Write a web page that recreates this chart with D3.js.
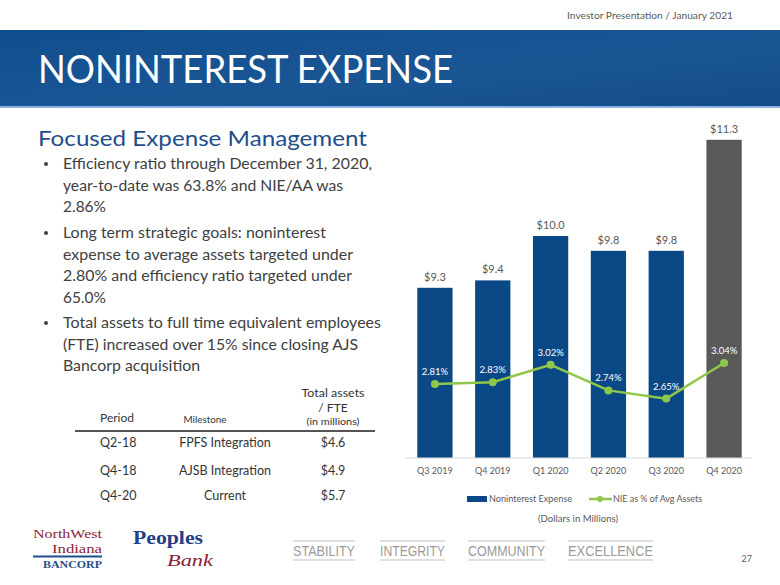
<!DOCTYPE html>
<html><head><meta charset="utf-8">
<script src="https://cdn.jsdelivr.net/npm/d3@7"></script>
<style>html,body{margin:0;padding:0;background:#fff;}svg{display:block;}</style>
</head><body>
<svg id="c" width="780" height="585"></svg>
<script>
const categories = ["Q3 2019","Q4 2019","Q1 2020","Q2 2020","Q3 2020","Q4 2020"];
const expense = [9.3, 9.4, 10.0, 9.8, 9.8, 11.3];
const expenseLabels = ["$9.3","$9.4","$10.0","$9.8","$9.8","$11.3"];
const niePct = [2.81, 2.83, 3.02, 2.74, 2.65, 3.04];
const nieLabels = ["2.81%","2.83%","3.02%","2.74%","2.65%","3.04%"];
const legendNames = ["Noninterest Expense","NIE as % of Avg Assets"];
const tablePeriods = ["Q2-18","Q4-18","Q4-20"];
const tableMilestones = ["FPFS Integration","AJSB Integration","Current"];
const tableValues = ["$4.6","$4.9","$5.7"];
const bullets = [
  ["Efficiency ratio through December 31, 2020,","year-to-date  was 63.8% and NIE/AA was","2.86%"],
  ["Long term strategic goals: noninterest","expense to average assets targeted under","2.80% and efficiency ratio targeted under","65.0%"],
  ["Total assets to full time equivalent employees","(FTE) increased over 15% since closing AJS","Bancorp acquisition"]
];
const bulletWidths = [[309,280,43],[263,290,289,43],[318,295,137]];
const values = ["STABILITY","INTEGRITY","COMMUNITY","EXCELLENCE"];

const svg = d3.select("#c");
const F = "Lato, 'Open Sans', sans-serif";

// header
svg.append("text").attr("x",733).attr("y",19).attr("text-anchor","end")
  .attr("font-family",F).attr("font-size",10).attr("fill","#595959")
  .attr("textLength",166).attr("lengthAdjust","spacingAndGlyphs")
  .text("Investor Presentation / January 2021");
const defs = svg.append("defs");
const g1 = defs.append("linearGradient").attr("id","band").attr("x1",0).attr("x2",1).attr("y1",0).attr("y2",1);
g1.append("stop").attr("offset","0").attr("stop-color","#114e8f");
g1.append("stop").attr("offset","0.6").attr("stop-color","#1a5694");
g1.append("stop").attr("offset","1").attr("stop-color","#124b88");
svg.append("rect").attr("x",0).attr("y",30).attr("width",780).attr("height",76).attr("fill","url(#band)");
svg.append("rect").attr("x",0).attr("y",106).attr("width",780).attr("height",2).attr("fill","#8db3e2");
svg.append("text").attr("x",38).attr("y",83).attr("font-family",F).attr("font-size",39)
  .attr("fill","#fff").attr("textLength",415).attr("lengthAdjust","spacingAndGlyphs")
  .text("NONINTEREST EXPENSE");

// left text
svg.append("text").attr("x",38).attr("y",146).attr("font-family",F).attr("font-size",22)
  .attr("fill","#1f4e8c").attr("textLength",329).attr("lengthAdjust","spacingAndGlyphs")
  .text("Focused Expense Management");
const lineStarts = [[169,191,212],[238,260,281,303],[328,350,371]];
bullets.forEach((b,i)=>{
  svg.append("circle").attr("cx",46).attr("cy",lineStarts[i][0]-5).attr("r",2).attr("fill","#404040");
  b.forEach((t,j)=>{
    svg.append("text").attr("x",63).attr("y",lineStarts[i][j]).attr("font-family",F)
      .attr("font-size",15.5).attr("fill","#404040")
      .attr("textLength",bulletWidths[i][j]).attr("lengthAdjust","spacingAndGlyphs").text(t);
  });
});

// table
const tf = (x,y,s,t,anchor,w)=>{const e=svg.append("text").attr("x",x).attr("y",y).attr("font-family",F)
  .attr("font-size",s).attr("fill","#333").attr("text-anchor",anchor||"start").text(t);
  if(w) e.attr("textLength",w).attr("lengthAdjust","spacingAndGlyphs"); return e;};
tf(333,397,12,"Total assets","middle",63);
tf(333,412,12,"/ FTE","middle");
tf(333,425,9,"(in millions)","middle",53);
tf(100,422,12,"Period","start",34);
tf(205,423,9,"Milestone","middle",43);
svg.append("line").attr("x1",75).attr("x2",375).attr("y1",431).attr("y2",431).attr("stroke","#555").attr("stroke-width",1.8);
const rowY = [447,475,500];
tablePeriods.forEach((p,i)=>{
  tf(100,rowY[i],12.5,p,"start");
  tf(225,rowY[i],12.5,tableMilestones[i],"middle");
  tf(333,rowY[i],12.5,tableValues[i],"middle");
});

// chart
const x = d3.scaleBand().domain(categories).range([406,753]).paddingInner(0.39).paddingOuter(0.195);
const y = d3.scaleLinear().domain([7,12]).range([458,88]);
const y2 = d3.scaleLinear().domain([2.0,6.05]).range([458,88]);
const blue = "#0b4886", gray = "#595959", green = "#8fc74a";

svg.append("g").selectAll("rect").data(expense).join("rect")
  .attr("x",(d,i)=>x(categories[i])).attr("width",x.bandwidth())
  .attr("y",d=>y(d)).attr("height",d=>y(7)-y(d))
  .attr("fill",(d,i)=>i===categories.length-1?gray:blue);
svg.append("g").selectAll("text").data(expense).join("text")
  .attr("x",(d,i)=>x(categories[i])+x.bandwidth()/2).attr("y",d=>y(d)-7)
  .attr("text-anchor","middle").attr("font-family",F).attr("font-size",11).attr("fill","#595959")
  .text((d,i)=>expenseLabels[i]);

const xAxis = svg.append("g").attr("transform","translate(0,458)")
  .call(d3.axisBottom(x).tickSize(0).tickPadding(10));
xAxis.select(".domain").attr("d","M405,0H752").attr("stroke","#d9d9d9");
xAxis.selectAll("text").attr("font-family",F).attr("font-size",9).attr("fill","#595959");

const line = d3.line().x((d,i)=>x(categories[i])+x.bandwidth()/2).y(d=>y2(d));
svg.append("path").datum(niePct).attr("d",line).attr("fill","none").attr("stroke",green).attr("stroke-width",2.5);
svg.append("g").selectAll("circle").data(niePct).join("circle")
  .attr("cx",(d,i)=>x(categories[i])+x.bandwidth()/2).attr("cy",d=>y2(d)).attr("r",4).attr("fill",green);
svg.append("g").selectAll("text").data(niePct).join("text")
  .attr("x",(d,i)=>x(categories[i])+x.bandwidth()/2).attr("y",d=>y2(d)-9)
  .attr("text-anchor","middle").attr("font-family",F).attr("font-size",9.5).attr("fill","#fff")
  .text((d,i)=>nieLabels[i]);

// legend
svg.append("rect").attr("x",467).attr("y",496).attr("width",20).attr("height",6).attr("fill",blue);
svg.append("text").attr("x",489).attr("y",502).attr("font-family",F).attr("font-size",8.5).attr("fill","#595959")
  .attr("textLength",83).attr("lengthAdjust","spacingAndGlyphs").text(legendNames[0]);
svg.append("line").attr("x1",589).attr("x2",612).attr("y1",499).attr("y2",499).attr("stroke",green).attr("stroke-width",2.5);
svg.append("circle").attr("cx",600).attr("cy",499).attr("r",3).attr("fill",green);
svg.append("text").attr("x",613).attr("y",502).attr("font-family",F).attr("font-size",8.5).attr("fill","#595959")
  .attr("textLength",89).attr("lengthAdjust","spacingAndGlyphs").text(legendNames[1]);
svg.append("text").attr("x",578).attr("y",522).attr("text-anchor","middle").attr("font-family",F).attr("font-size",8.5).attr("fill","#595959")
  .attr("textLength",80).attr("lengthAdjust","spacingAndGlyphs").text("(Dollars in Millions)");

// footer logos
const serif = "'Liberation Serif', 'DejaVu Serif', serif";
svg.append("text").attr("x",102).attr("y",538).attr("text-anchor","end").attr("font-family",serif).attr("font-size",12.5)
  .attr("fill","#8b2232").attr("textLength",69).attr("lengthAdjust","spacingAndGlyphs").text("NorthWest");
svg.append("text").attr("x",102).attr("y",552.5).attr("text-anchor","end").attr("font-family",serif).attr("font-size",12.5)
  .attr("fill","#8b2232").attr("textLength",50).attr("lengthAdjust","spacingAndGlyphs").text("Indiana");
svg.append("rect").attr("x",33).attr("y",555.5).attr("width",69).attr("height",2).attr("fill","#1f4e8c");
svg.append("text").attr("x",102).attr("y",568).attr("text-anchor","end").attr("font-family",serif).attr("font-size",11)
  .attr("font-weight","bold").attr("fill","#1f4e8c").attr("textLength",59).attr("lengthAdjust","spacingAndGlyphs").text("BANCORP");
svg.append("text").attr("x",133).attr("y",544).attr("font-family",serif).attr("font-size",19)
  .attr("font-weight","bold").attr("fill","#1f3f86").attr("textLength",70).attr("lengthAdjust","spacingAndGlyphs").text("Peoples");
svg.append("text").attr("x",167).attr("y",566).attr("font-family",serif).attr("font-size",17)
  .attr("font-style","italic").attr("fill","#8b2232").attr("textLength",46).attr("lengthAdjust","spacingAndGlyphs").text("Bank");

const vx = [[293,62],[380,65],[468,77],[568,85]];
values.forEach((v,i)=>{
  svg.append("line").attr("x1",vx[i][0]).attr("x2",vx[i][0]+vx[i][1]).attr("y1",541).attr("y2",541).attr("stroke","#bfbfbf");
  svg.append("line").attr("x1",vx[i][0]).attr("x2",vx[i][0]+vx[i][1]).attr("y1",560).attr("y2",560).attr("stroke","#bfbfbf");
  svg.append("text").attr("x",vx[i][0]).attr("y",556).attr("font-family","'Liberation Sans', Arial, sans-serif")
    .attr("font-size",14).attr("fill","#9a9a9a").attr("textLength",vx[i][1]).attr("lengthAdjust","spacingAndGlyphs").text(v);
});
svg.append("text").attr("x",752).attr("y",562).attr("text-anchor","end").attr("font-family",F).attr("font-size",9)
  .attr("fill","#595959").text("27");
</script>
</body></html>
